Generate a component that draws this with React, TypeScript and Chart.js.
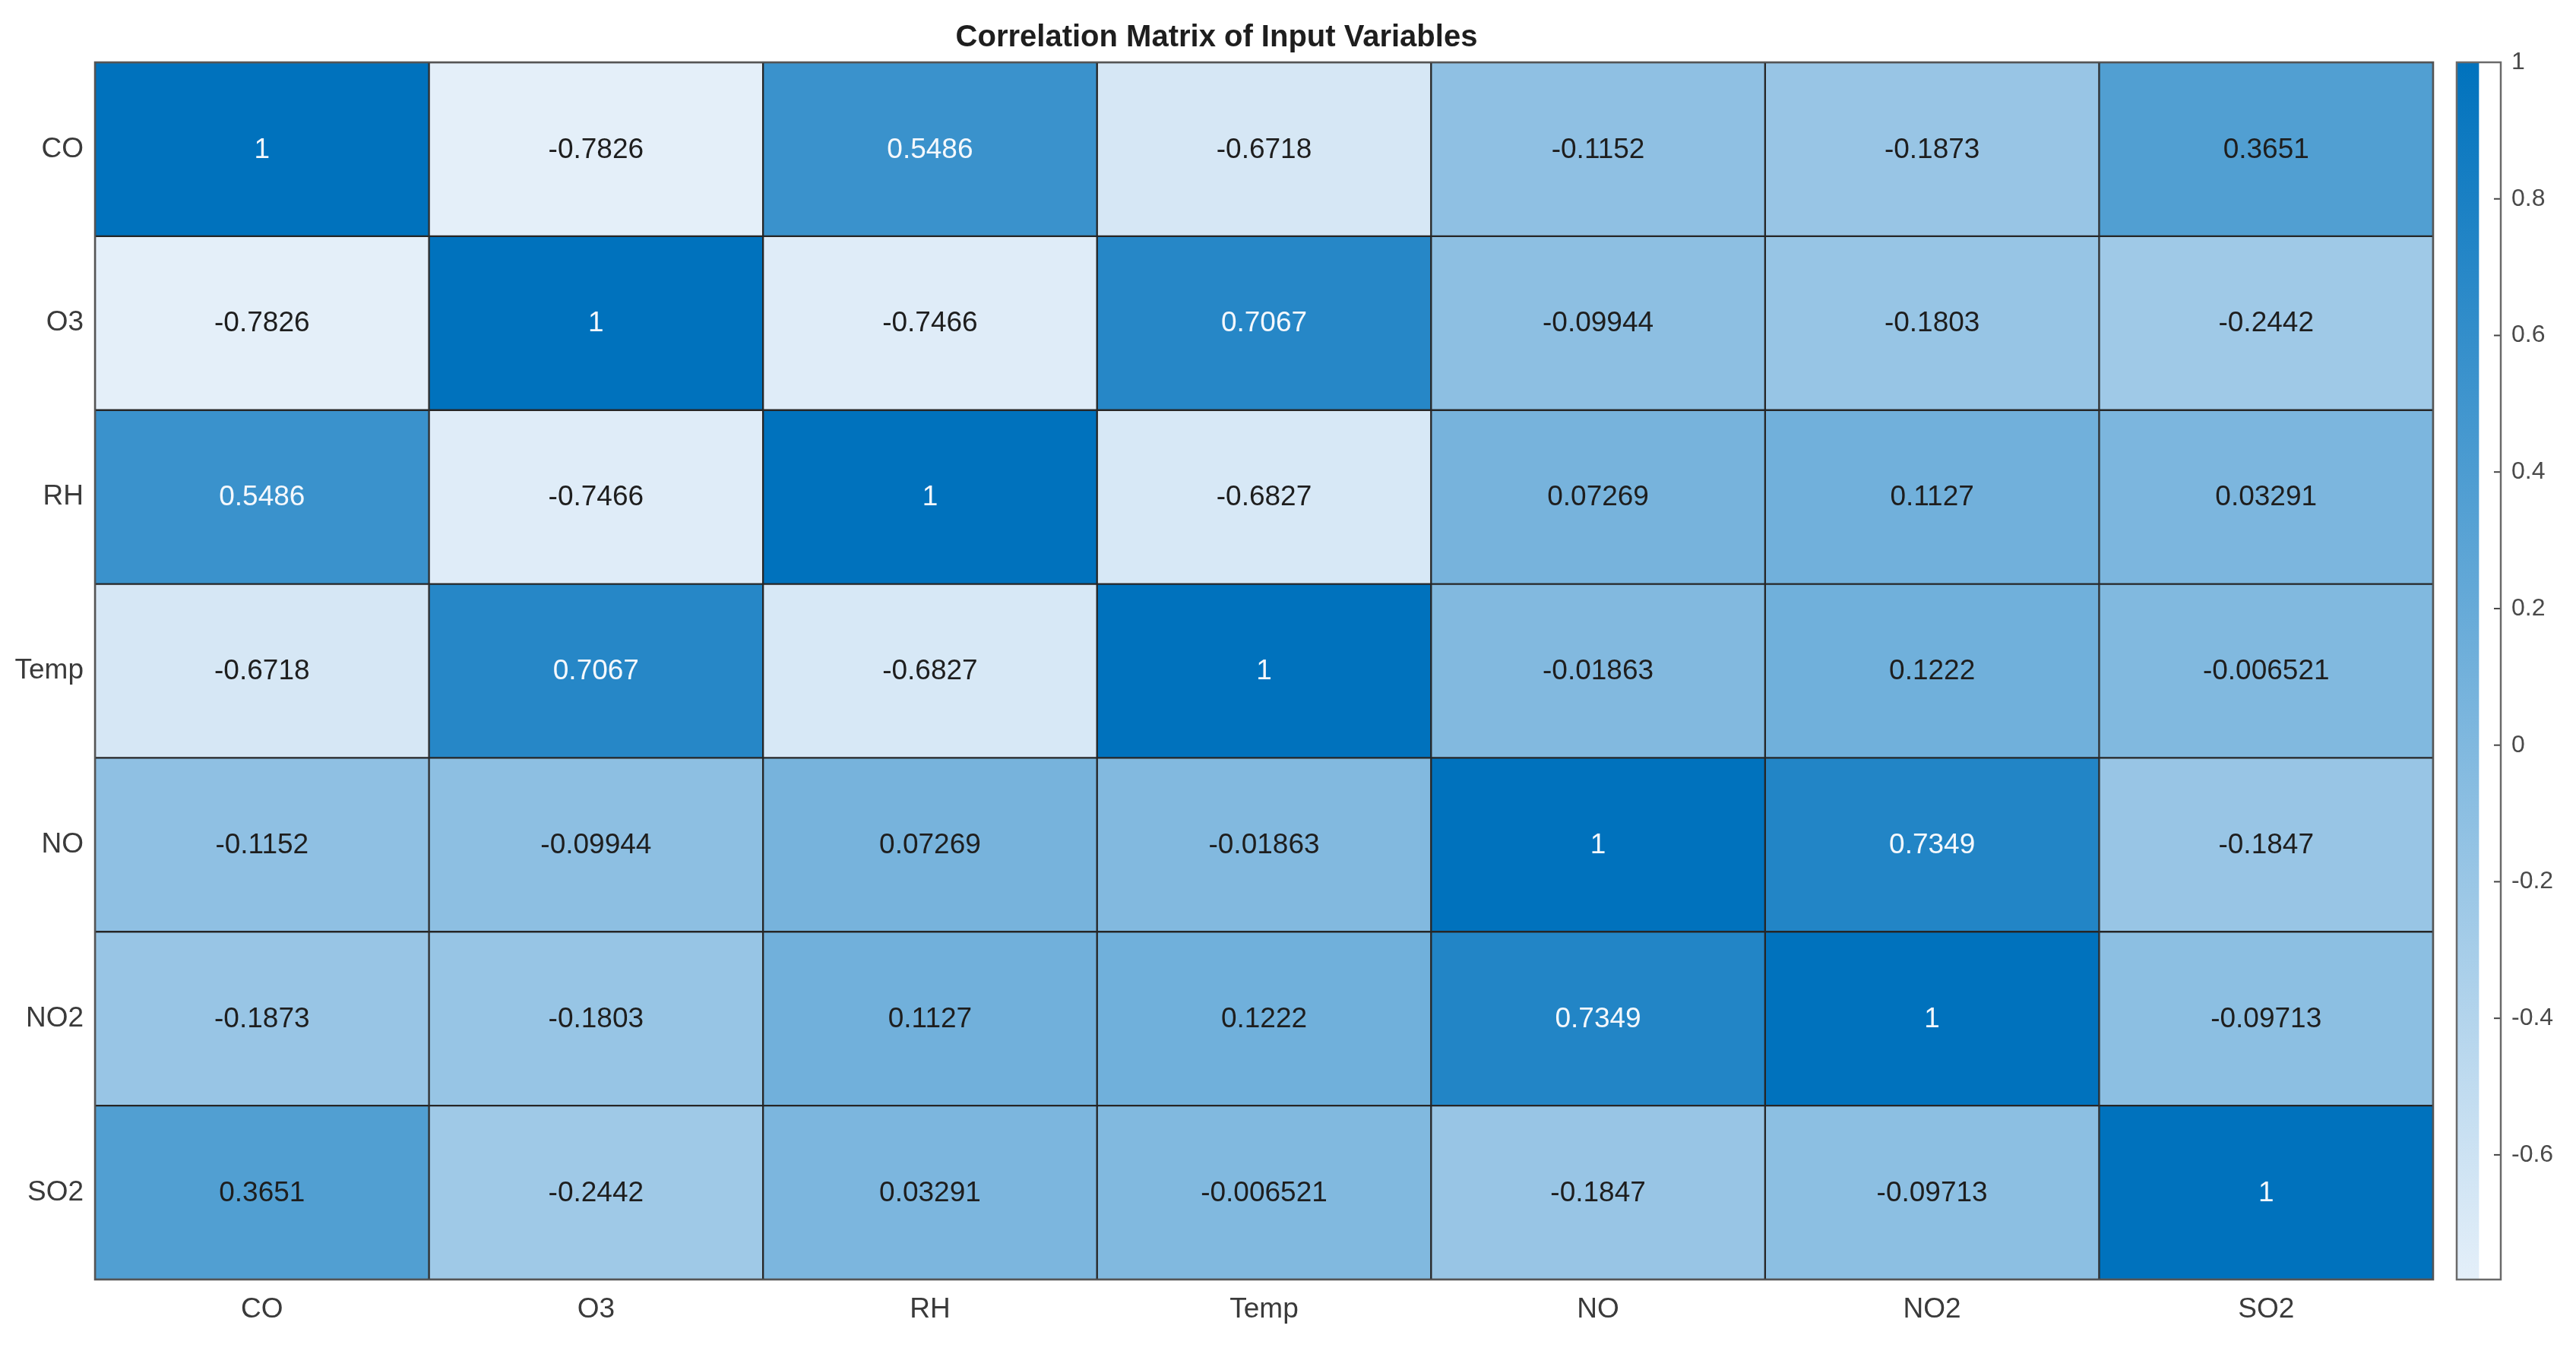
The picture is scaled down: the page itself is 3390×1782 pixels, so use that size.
import React, { useEffect, useRef } from "react";
import { Chart, registerables } from "chart.js";

Chart.register(...registerables);

const colLabels = ["CO", "O3", "RH", "Temp", "NO", "NO2", "SO2"];
const rowLabels = ["CO", "O3", "RH", "Temp", "NO", "NO2", "SO2"];

const rowCO = [1, -0.7826, 0.5486, -0.6718, -0.1152, -0.1873, 0.3651];
const rowO3 = [-0.7826, 1, -0.7466, 0.7067, -0.09944, -0.1803, -0.2442];
const rowRH = [0.5486, -0.7466, 1, -0.6827, 0.07269, 0.1127, 0.03291];
const rowTemp = [-0.6718, 0.7067, -0.6827, 1, -0.01863, 0.1222, -0.006521];
const rowNO = [-0.1152, -0.09944, 0.07269, -0.01863, 1, 0.7349, -0.1847];
const rowNO2 = [-0.1873, -0.1803, 0.1127, 0.1222, 0.7349, 1, -0.09713];
const rowSO2 = [0.3651, -0.2442, 0.03291, -0.006521, -0.1847, -0.09713, 1];

const corr = [rowCO, rowO3, rowRH, rowTemp, rowNO, rowNO2, rowSO2];

const colorMin = -0.7826;
const colorMax = 1;
const colorbarTicks = [1, 0.8, 0.6, 0.4, 0.2, 0, -0.2, -0.4, -0.6];

const TITLE = "Correlation Matrix of Input Variables";

const LIGHT = [228, 239, 249];
const DARK = [0, 114, 189];

function colorFor(v: number): string {
  const t = Math.max(0, Math.min(1, (v - colorMin) / (colorMax - colorMin)));
  const c = LIGHT.map((l, i) => Math.round(l + (DARK[i] - l) * t));
  return `rgb(${c[0]},${c[1]},${c[2]})`;
}

function fmt(v: number): string {
  return parseFloat(v.toPrecision(4)).toString();
}

const FONT = "'Liberation Sans', Arial, Helvetica, sans-serif";

const W = 3390;
const H = 1782;
const MAIN_W = 3326;
const CB_LEFT = 3220;

export default function App() {
  const mainRef = useRef<HTMLCanvasElement | null>(null);
  const cbRef = useRef<HTMLCanvasElement | null>(null);

  useEffect(() => {
    Chart.defaults.font.family = FONT;

    const cellText = {
      id: "cellText",
      afterDatasetsDraw(chart: any) {
        const ctx = chart.ctx;
        ctx.save();
        ctx.font = `37px ${FONT}`;
        ctx.textAlign = "center";
        ctx.textBaseline = "middle";
        chart.data.datasets.forEach((ds: any, r: number) => {
          const meta = chart.getDatasetMeta(r);
          meta.data.forEach((el: any, c: number) => {
            const v = corr[r][c];
            const cy = (el.y + el.base) / 2;
            ctx.fillStyle = v > 0.45 ? "#f4f8fc" : "#1e1e1e";
            ctx.fillText(fmt(v), el.x, cy + 1);
          });
        });
        const a = chart.chartArea;
        ctx.strokeStyle = "#555";
        ctx.lineWidth = 2.5;
        ctx.strokeRect(a.left, a.top, a.right - a.left, a.bottom - a.top);
        ctx.restore();
      },
    };

    const datasets = corr.map((row, r) => ({
      label: rowLabels[r],
      data: row.map(() => [r, r + 1]),
      backgroundColor: row.map((v) => colorFor(v)),
      borderColor: "#262626",
      borderWidth: 1.5,
      borderSkipped: false,
      grouped: false,
      barPercentage: 1,
      categoryPercentage: 1,
    }));

    const main = new Chart(mainRef.current as HTMLCanvasElement, {
      type: "bar",
      data: { labels: colLabels, datasets: datasets as any },
      plugins: [cellText],
      options: {
        animation: false,
        responsive: false,
        events: [],
        layout: { padding: { left: 0, right: 124, top: 0, bottom: 0 } },
        plugins: {
          legend: { display: false },
          tooltip: { enabled: false },
          title: {
            display: true,
            text: TITLE,
            color: "#1e1e1e",
            font: { size: 40, weight: "bold", family: FONT },
            padding: { top: 26, bottom: 8 },
          },
        },
        scales: {
          x: {
            type: "category",
            offset: true,
            grid: { display: false, drawTicks: false },
            border: { display: false },
            ticks: { color: "#3a3a3a", font: { size: 37 }, padding: 18, maxRotation: 0 },
            afterFit: (s: any) => {
              s.height = H - 1684;
            },
          },
          y: {
            type: "linear",
            min: 0,
            max: 7,
            reverse: true,
            grid: { display: false, drawTicks: false },
            border: { display: false },
            afterBuildTicks: (axis: any) => {
              axis.ticks = rowLabels.map((_, i) => ({ value: i + 0.5 }));
            },
            ticks: {
              color: "#3a3a3a",
              font: { size: 37 },
              padding: 15,
              callback: (v: any) => rowLabels[Math.floor(Number(v))],
            },
            afterFit: (s: any) => {
              s.width = 125;
            },
          },
        },
      } as any,
    });

    const cbDecor = {
      id: "cbDecor",
      afterDatasetsDraw(chart: any) {
        const ctx = chart.ctx;
        const a = chart.chartArea;
        const ys = chart.scales.y;
        ctx.save();
        ctx.strokeStyle = "#444";
        ctx.lineWidth = 2;
        colorbarTicks.forEach((t) => {
          const py = ys.getPixelForValue(t);
          ctx.beginPath();
          ctx.moveTo(a.right, py);
          ctx.lineTo(a.right - 9, py);
          ctx.stroke();
        });
        ctx.strokeStyle = "#6a6a6a";
        ctx.lineWidth = 2.5;
        ctx.strokeRect(a.left, a.top, a.right - a.left, a.bottom - a.top);
        ctx.restore();
      },
    };

    const cb = new Chart(cbRef.current as HTMLCanvasElement, {
      type: "bar",
      data: {
        labels: [""],
        datasets: [
          {
            data: [[colorMin, colorMax]],
            backgroundColor: (ctx: any) => {
              const area = ctx.chart.chartArea;
              if (!area) return colorFor(0);
              const g = ctx.chart.ctx.createLinearGradient(0, area.bottom, 0, area.top);
              g.addColorStop(0, colorFor(colorMin));
              g.addColorStop(1, colorFor(colorMax));
              return g;
            },
            borderWidth: 0,
            barPercentage: 1,
            categoryPercentage: 1,
          } as any,
        ],
      },
      plugins: [cbDecor],
      options: {
        animation: false,
        responsive: false,
        events: [],
        layout: { padding: { left: 3233 - CB_LEFT, right: 0, top: 82, bottom: H - 1684 } },
        plugins: { legend: { display: false }, tooltip: { enabled: false }, title: { display: false } },
        scales: {
          x: { display: false, offset: false },
          y: {
            type: "linear",
            position: "right",
            min: colorMin,
            max: colorMax,
            grid: { display: false, drawTicks: false },
            border: { display: false },
            afterBuildTicks: (axis: any) => {
              axis.ticks = colorbarTicks.map((v) => ({ value: v }));
            },
            ticks: {
              color: "#4a4a4a",
              font: { size: 32 },
              padding: 14,
              callback: (v: any) => String(Math.round(Number(v) * 10) / 10),
            },
            afterFit: (s: any) => {
              s.width = W - 3291;
            },
          },
        },
      } as any,
    });

    return () => {
      main.destroy();
      cb.destroy();
    };
  }, []);

  return (
    <div style={{ position: "fixed", left: 0, top: 0, width: W, height: H, background: "#fff" }}>
      <canvas
        ref={mainRef}
        width={MAIN_W}
        height={H}
        style={{ position: "absolute", left: 0, top: 0, width: MAIN_W, height: H }}
      />
      <canvas
        ref={cbRef}
        width={W - CB_LEFT}
        height={H}
        style={{ position: "absolute", left: CB_LEFT, top: 0, width: W - CB_LEFT, height: H }}
      />
    </div>
  );
}
